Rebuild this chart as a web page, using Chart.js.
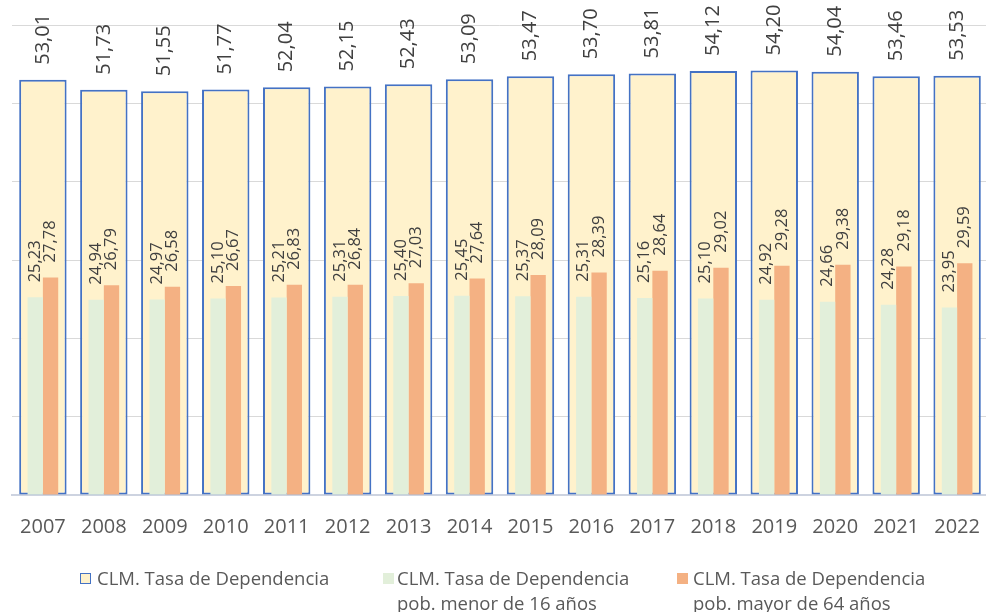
<!DOCTYPE html>
<html>
<head>
<meta charset="utf-8">
<script src="https://cdn.jsdelivr.net/npm/chart.js@4.4.1/dist/chart.umd.min.js"></script>
<style>
    body { margin: 0; overflow: hidden; background: #fff; width: 986px; height: 612px; position: relative; }
    #wrap { position: absolute; left: 0; top: 0; width: 1000px; height: 612px; }
    .leg { position: absolute; font-family: "Open Sans", sans-serif; font-size: 18.5px; line-height: 25px; color: #595959; white-space: nowrap; }
    .box { position: absolute; width: 11px; height: 11px; }
</style>
</head>
<body>
<div id="wrap"><canvas id="chart" width="1000" height="612"></canvas></div>

<div class="box" style="left:80px;top:573px;background:#FFF2CC;border:1.5px solid #4472C4;width:9px;height:9px;"></div>
<div class="leg" style="left:97px;top:565px;">CLM. Tasa de Dependencia</div>
<div class="box" style="left:383px;top:573px;background:#E2EFDA;"></div>
<div class="leg" style="left:397px;top:565px;">CLM. Tasa de Dependencia<br>pob. menor de 16 años</div>
<div class="box" style="left:677px;top:573px;background:#F4B183;"></div>
<div class="leg" style="left:693px;top:565px;">CLM. Tasa de Dependencia<br>pob. mayor de 64 años</div>

<script>
const years = ['2007', '2008', '2009', '2010', '2011', '2012', '2013', '2014',
               '2015', '2016', '2017', '2018', '2019', '2020', '2021', '2022'];
const tasaTotal = [53.01, 51.73, 51.55, 51.77, 52.04, 52.15, 52.43, 53.09,
                   53.47, 53.70, 53.81, 54.12, 54.20, 54.04, 53.46, 53.53];
const tasaMenor16 = [25.23, 24.94, 24.97, 25.10, 25.21, 25.31, 25.40, 25.45,
                     25.37, 25.31, 25.16, 25.10, 24.92, 24.66, 24.28, 23.95];
const tasaMayor64 = [27.78, 26.79, 26.58, 26.67, 26.83, 26.84, 27.03, 27.64,
                     28.09, 28.39, 28.64, 29.02, 29.28, 29.38, 29.18, 29.59];

// Rotated value labels above each bar
const barLabels = {
    id: 'barLabels',
    afterDatasetsDraw(chart) {
        const ctx = chart.ctx;
        const sizes = [20, 16.5, 16.5];
        chart.data.datasets.forEach((ds, i) => {
            const meta = chart.getDatasetMeta(i);
            meta.data.forEach((bar, j) => {
                ctx.save();
                ctx.font = `${sizes[i]}px "Open Sans", sans-serif`;
                ctx.fillStyle = '#404040';
                ctx.translate(bar.x, bar.y - 15);
                ctx.rotate(-Math.PI / 2);
                ctx.textAlign = 'left';
                ctx.textBaseline = 'middle';
                ctx.fillText(ds.data[j].toFixed(2).replace('.', ','), 0, 0);
                ctx.restore();
            });
        });
    }
};

new Chart(document.getElementById('chart'), {
    type: 'bar',
    data: {
        labels: years,
        datasets: [
            {
                label: 'CLM. Tasa de Dependencia',
                data: tasaTotal,
                grouped: false,
                backgroundColor: '#FFF2CC',
                borderColor: '#4472C4',
                borderWidth: 2,
                borderSkipped: false,
                categoryPercentage: 1,
                barPercentage: 0.778,
                order: 1
            },
            {
                label: 'CLM. Tasa de Dependencia pob. menor de 16 años',
                data: tasaMenor16,
                backgroundColor: '#E2EFDA',
                categoryPercentage: 0.503,
                barPercentage: 1,
                order: 0
            },
            {
                label: 'CLM. Tasa de Dependencia pob. mayor de 64 años',
                data: tasaMayor64,
                backgroundColor: '#F4B183',
                categoryPercentage: 0.503,
                barPercentage: 1,
                order: 0
            }
        ]
    },
    options: {
        responsive: false,
        animation: false,
        devicePixelRatio: 1,
        layout: { padding: { left: 5, right: 8, top: 25, bottom: 53 } },
        plugins: {
            legend: { display: false },
            tooltip: { enabled: false }
        },
        scales: {
            x: {
                grid: { display: false, drawTicks: false },
                border: { display: true, color: '#CDD3E0', width: 2 },
                ticks: {
                    color: '#595959',
                    font: { family: '"Open Sans", sans-serif', size: 20 },
                    padding: 20,
                    maxRotation: 0,
                    autoSkip: false
                }
            },
            y: {
                min: 0,
                max: 60,
                afterFit: scale => { scale.width = 0; },
                ticks: { display: false, stepSize: 10 },
                grid: { color: '#D9D9D9', lineWidth: 1, drawTicks: false },
                border: { display: false }
            }
        }
    },
    plugins: [barLabels]
});
</script>
</body>
</html>
